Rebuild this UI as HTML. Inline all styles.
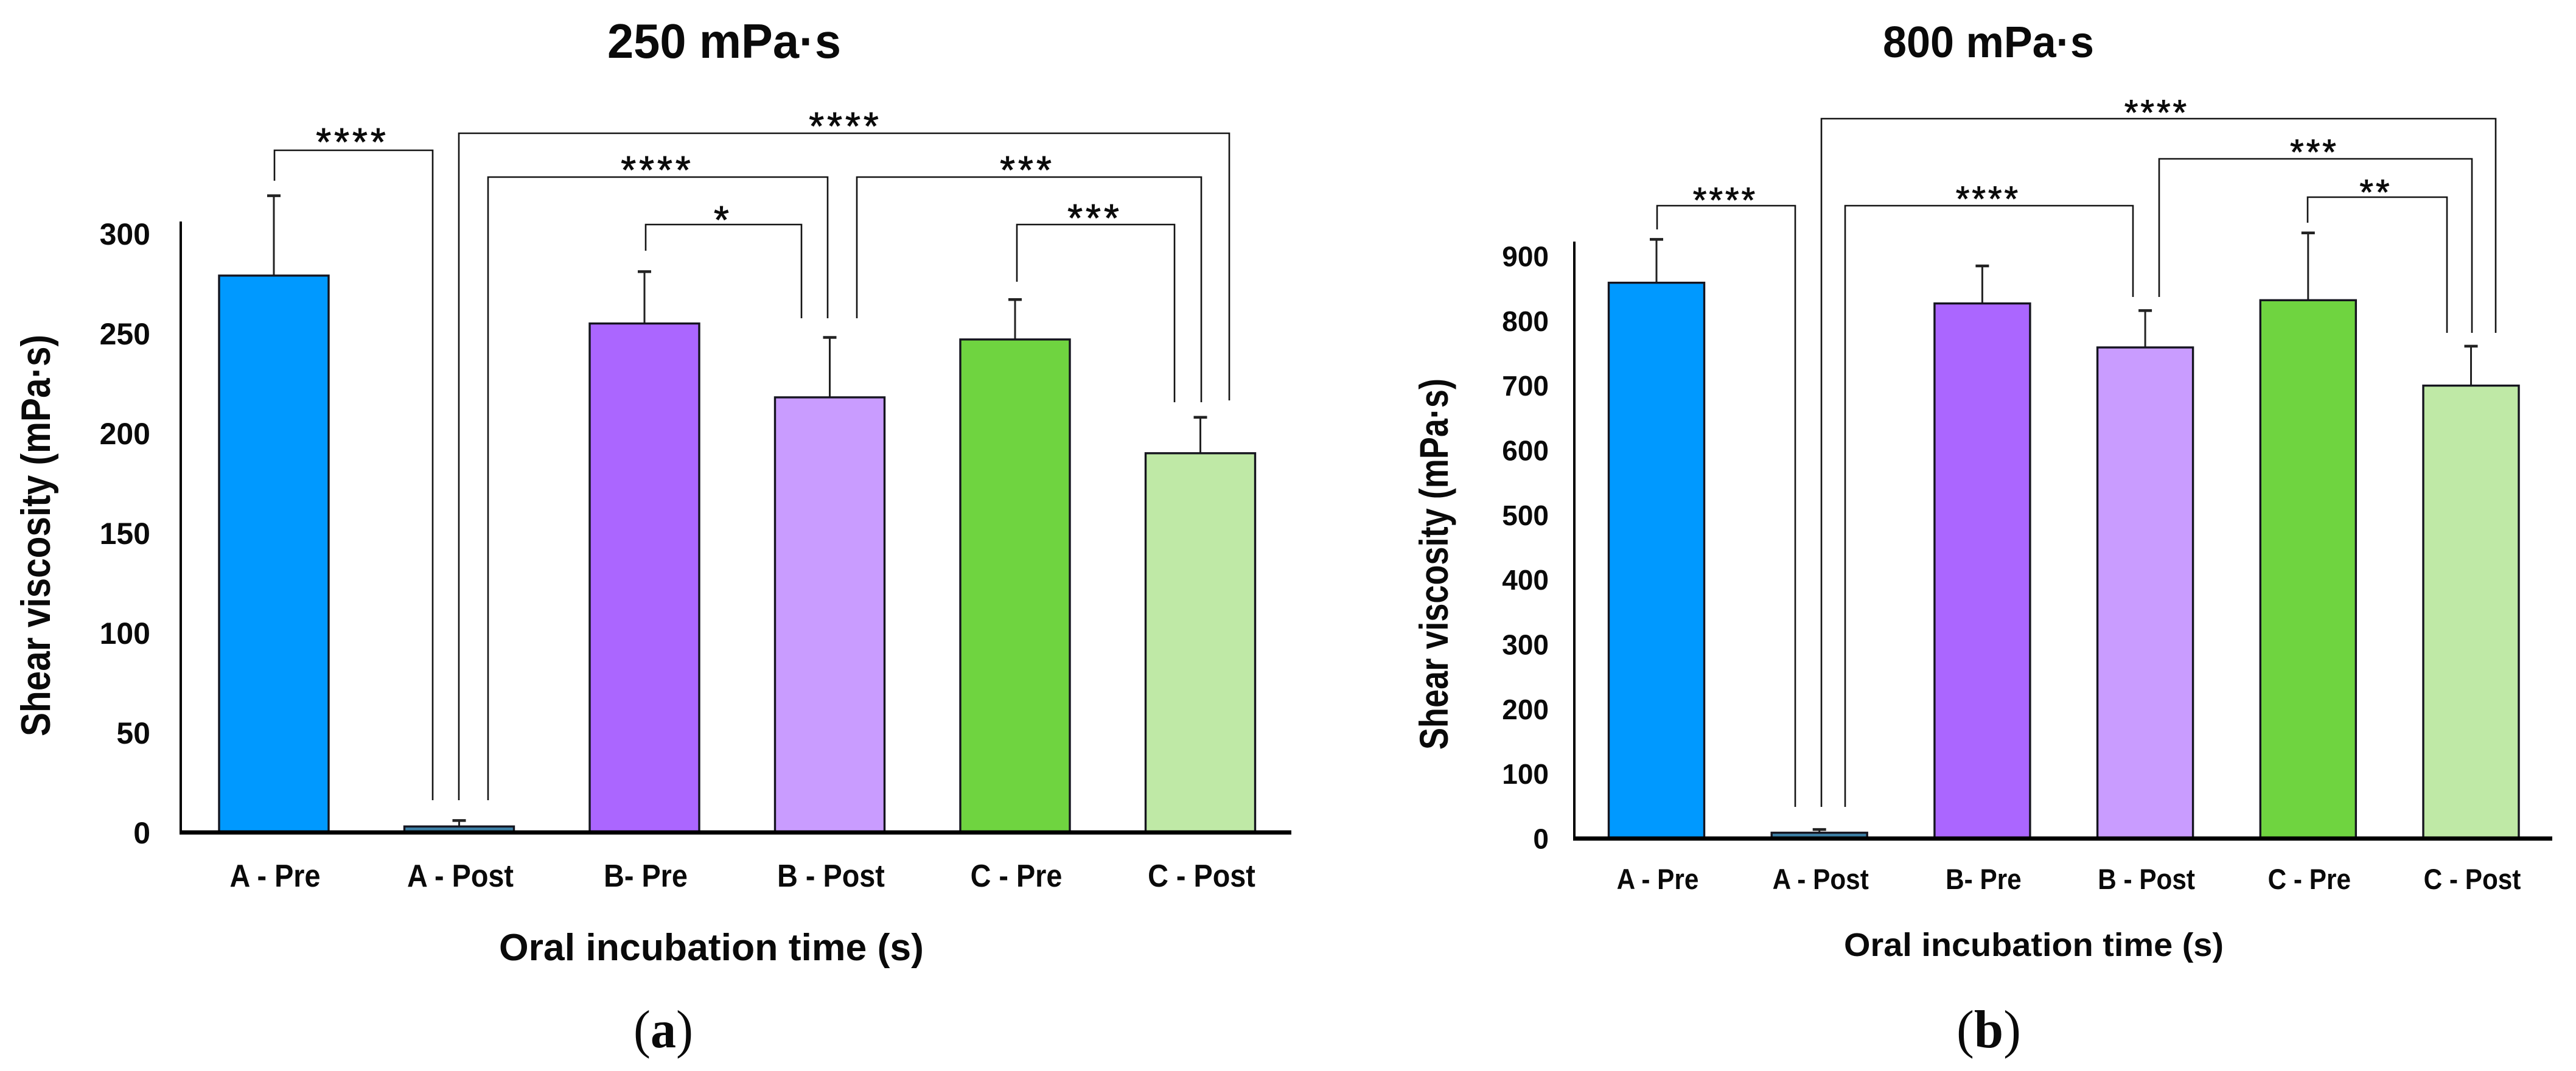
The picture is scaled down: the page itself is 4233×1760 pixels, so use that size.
<!DOCTYPE html>
<html lang="en">
<head>
<meta charset="utf-8">
<title>Shear viscosity pre and post oral incubation</title>
<style>
html,body{margin:0;padding:0;background:#fff;}
svg{display:block;}
text{font-family:"Liberation Sans",sans-serif;fill:#0a0a0a;}
.t{font-weight:700;}
.br{fill:none;stroke:#141414;stroke-width:2.6;}
.st{font-weight:400;text-anchor:middle;stroke:#111;stroke-width:1;}
</style>
</head>
<body>
<svg id="fig" xmlns="http://www.w3.org/2000/svg" width="4233" height="1760" viewBox="0 0 4233 1760">
<rect x="0" y="0" width="4233" height="1760" fill="#fff"/>

<g id="panelA">
<text class="t" x="998" y="95" font-size="80" textLength="384" lengthAdjust="spacingAndGlyphs">250 mPa·s</text>
<text class="t" transform="translate(82,1210) rotate(-90)" font-size="68" textLength="660" lengthAdjust="spacingAndGlyphs">Shear viscosity (mPa·s)</text>
<text class="t" x="820" y="1578" font-size="62" textLength="698" lengthAdjust="spacingAndGlyphs">Oral incubation time (s)</text>
<text x="1041" y="1721" font-size="88" textLength="98" lengthAdjust="spacingAndGlyphs" style='font-family:"Liberation Serif",serif'>(<tspan font-weight="700">a</tspan>)</text>

<path class="br" d="M451 297V247H711V1315"/>
<text class="st" x="579" y="255" font-size="64" letter-spacing="5">****</text>
<path class="br" d="M754 1315V219H2020V658"/>
<text class="st" x="1389" y="229" font-size="64" letter-spacing="5">****</text>
<path class="br" d="M802 1315V291H1360V523"/>
<text class="st" x="1080" y="301" font-size="64" letter-spacing="5">****</text>
<path class="br" d="M1408 523V291H1974V661"/>
<text class="st" x="1688" y="301" font-size="64" letter-spacing="5">***</text>
<path class="br" d="M1061 412V369H1317V523"/>
<text class="st" x="1188" y="383" font-size="64" letter-spacing="5">*</text>
<path class="br" d="M1671 463V369H1930V661"/>
<text class="st" x="1799" y="380" font-size="64" letter-spacing="5">***</text>
</g>

<g id="panelB">
<text class="t" x="3094" y="94" font-size="72" textLength="347" lengthAdjust="spacingAndGlyphs">800 mPa·s</text>
<text class="t" transform="translate(2379,1232) rotate(-90)" font-size="66" textLength="610" lengthAdjust="spacingAndGlyphs">Shear viscosity (mPa·s)</text>
<text class="t" x="3030" y="1571" font-size="54" textLength="624" lengthAdjust="spacingAndGlyphs">Oral incubation time (s)</text>
<text x="3215" y="1721" font-size="88" textLength="106" lengthAdjust="spacingAndGlyphs" style='font-family:"Liberation Serif",serif'>(<tspan font-weight="700">b</tspan>)</text>

<path class="br" d="M2723 377V338H2950V1326"/>
<text class="st" x="2835" y="349" font-size="58" letter-spacing="4">****</text>
<path class="br" d="M2993 1326V195H4101V547"/>
<text class="st" x="3544" y="205" font-size="58" letter-spacing="4">****</text>
<path class="br" d="M3032 1326V338H3505V488"/>
<text class="st" x="3267" y="347" font-size="58" letter-spacing="4">****</text>
<path class="br" d="M3548 488V261H4062V547"/>
<text class="st" x="3803" y="270" font-size="58" letter-spacing="4">***</text>
<path class="br" d="M3792 366V324H4021V547"/>
<text class="st" x="3904" y="336" font-size="58" letter-spacing="4">**</text>
</g>
</svg>

<script>
const categories = ['A - Pre', 'A - Post', 'B- Pre', 'B - Post', 'C - Pre', 'C - Post'];
const barColors = ['#0099ff', '#3d80a6', '#ab66ff', '#c99cff', '#6fd440', '#bfe9a6'];
const valuesA = [279, 3, 255, 218, 247, 190];
const errorTopsA = [319, 6, 281, 248, 267, 208];
const tickLabelsA = [0, 50, 100, 150, 200, 250, 300];
const valuesB = [859, 9, 827, 759, 832, 700];
const errorTopsB = [926, 14, 885, 816, 936, 761];
const tickLabelsB = [0, 100, 200, 300, 400, 500, 600, 700, 800, 900];

const NS = 'http://www.w3.org/2000/svg';

function make(parent, tag, attrs) {
  const el = document.createElementNS(NS, tag);
  for (const k in attrs) el.setAttribute(k, attrs[k]);
  parent.appendChild(el);
  return el;
}

function drawPanel(group, prefix, values, errors, ticks, g) {
  const yScale = function (v) { return g.baseY - g.pxPerUnit * v; };
  const xScale = function (i) { return g.firstX + g.stepX * i; };

  values.forEach(function (v, i) {
    const cx = xScale(i);
    const slug = categories[i].toLowerCase().replace(/[^a-z]+/g, '-');

    const stem = make(group, 'line', {x1: cx, x2: cx, y1: yScale(errors[i]), y2: yScale(v), stroke: '#222', 'stroke-width': 3});
    
    

    const cap = make(group, 'line', {x1: cx - 11, x2: cx + 11, y1: yScale(errors[i]), y2: yScale(errors[i]), stroke: '#222', 'stroke-width': 4.5});
    
    

    const bar = make(group, 'rect', {x: cx - g.barW / 2, y: yScale(v), width: g.barW, height: g.baseY - yScale(v), fill: barColors[i], stroke: '#15151f', 'stroke-width': 3.4});
    
    

    const lab = make(group, 'text', {x: cx + 2, y: g.catY, 'font-size': g.catSize, 'text-anchor': 'middle', 'class': 't'});
    lab.textContent = categories[i];
    
    
    lab.setAttribute('textLength', lab.getComputedTextLength() * 0.9);
    lab.setAttribute('lengthAdjust', 'spacingAndGlyphs');
  });

  ticks.forEach(function (t) {
    const tick = make(group, 'text', {x: g.axisX - g.tickGap, y: yScale(t) + g.tickDy, 'font-size': g.tickSize, 'text-anchor': 'end', 'class': 't'});
    tick.textContent = String(t);
    
    
  });

  const yAxis = make(group, 'line', {x1: g.axisX, x2: g.axisX, y1: g.axisTop, y2: g.baseY, stroke: '#000', 'stroke-width': 4});
  
  

  const xAxis = make(group, 'line', {x1: g.axisX - 2, x2: g.axisEnd, y1: g.baseY, y2: g.baseY, stroke: '#000', 'stroke-width': 7});
  
  
}

drawPanel(document.getElementById('panelA'), 'panel-a', valuesA, errorTopsA, tickLabelsA, {
  baseY: 1368, pxPerUnit: 3.28, firstX: 450, stepX: 304.5, barW: 180,
  axisX: 297, axisTop: 364, axisEnd: 2122, tickGap: 50, tickDy: 18, tickSize: 50, catY: 1457, catSize: 52
});
drawPanel(document.getElementById('panelB'), 'panel-b', valuesB, errorTopsB, tickLabelsB, {
  baseY: 1378, pxPerUnit: 1.0633, firstX: 2722, stepX: 267.7, barW: 157,
  axisX: 2587, axisTop: 397, axisEnd: 4194, tickGap: 42, tickDy: 16.5, tickSize: 46, catY: 1461, catSize: 47
});
</script>
</body>
</html>
